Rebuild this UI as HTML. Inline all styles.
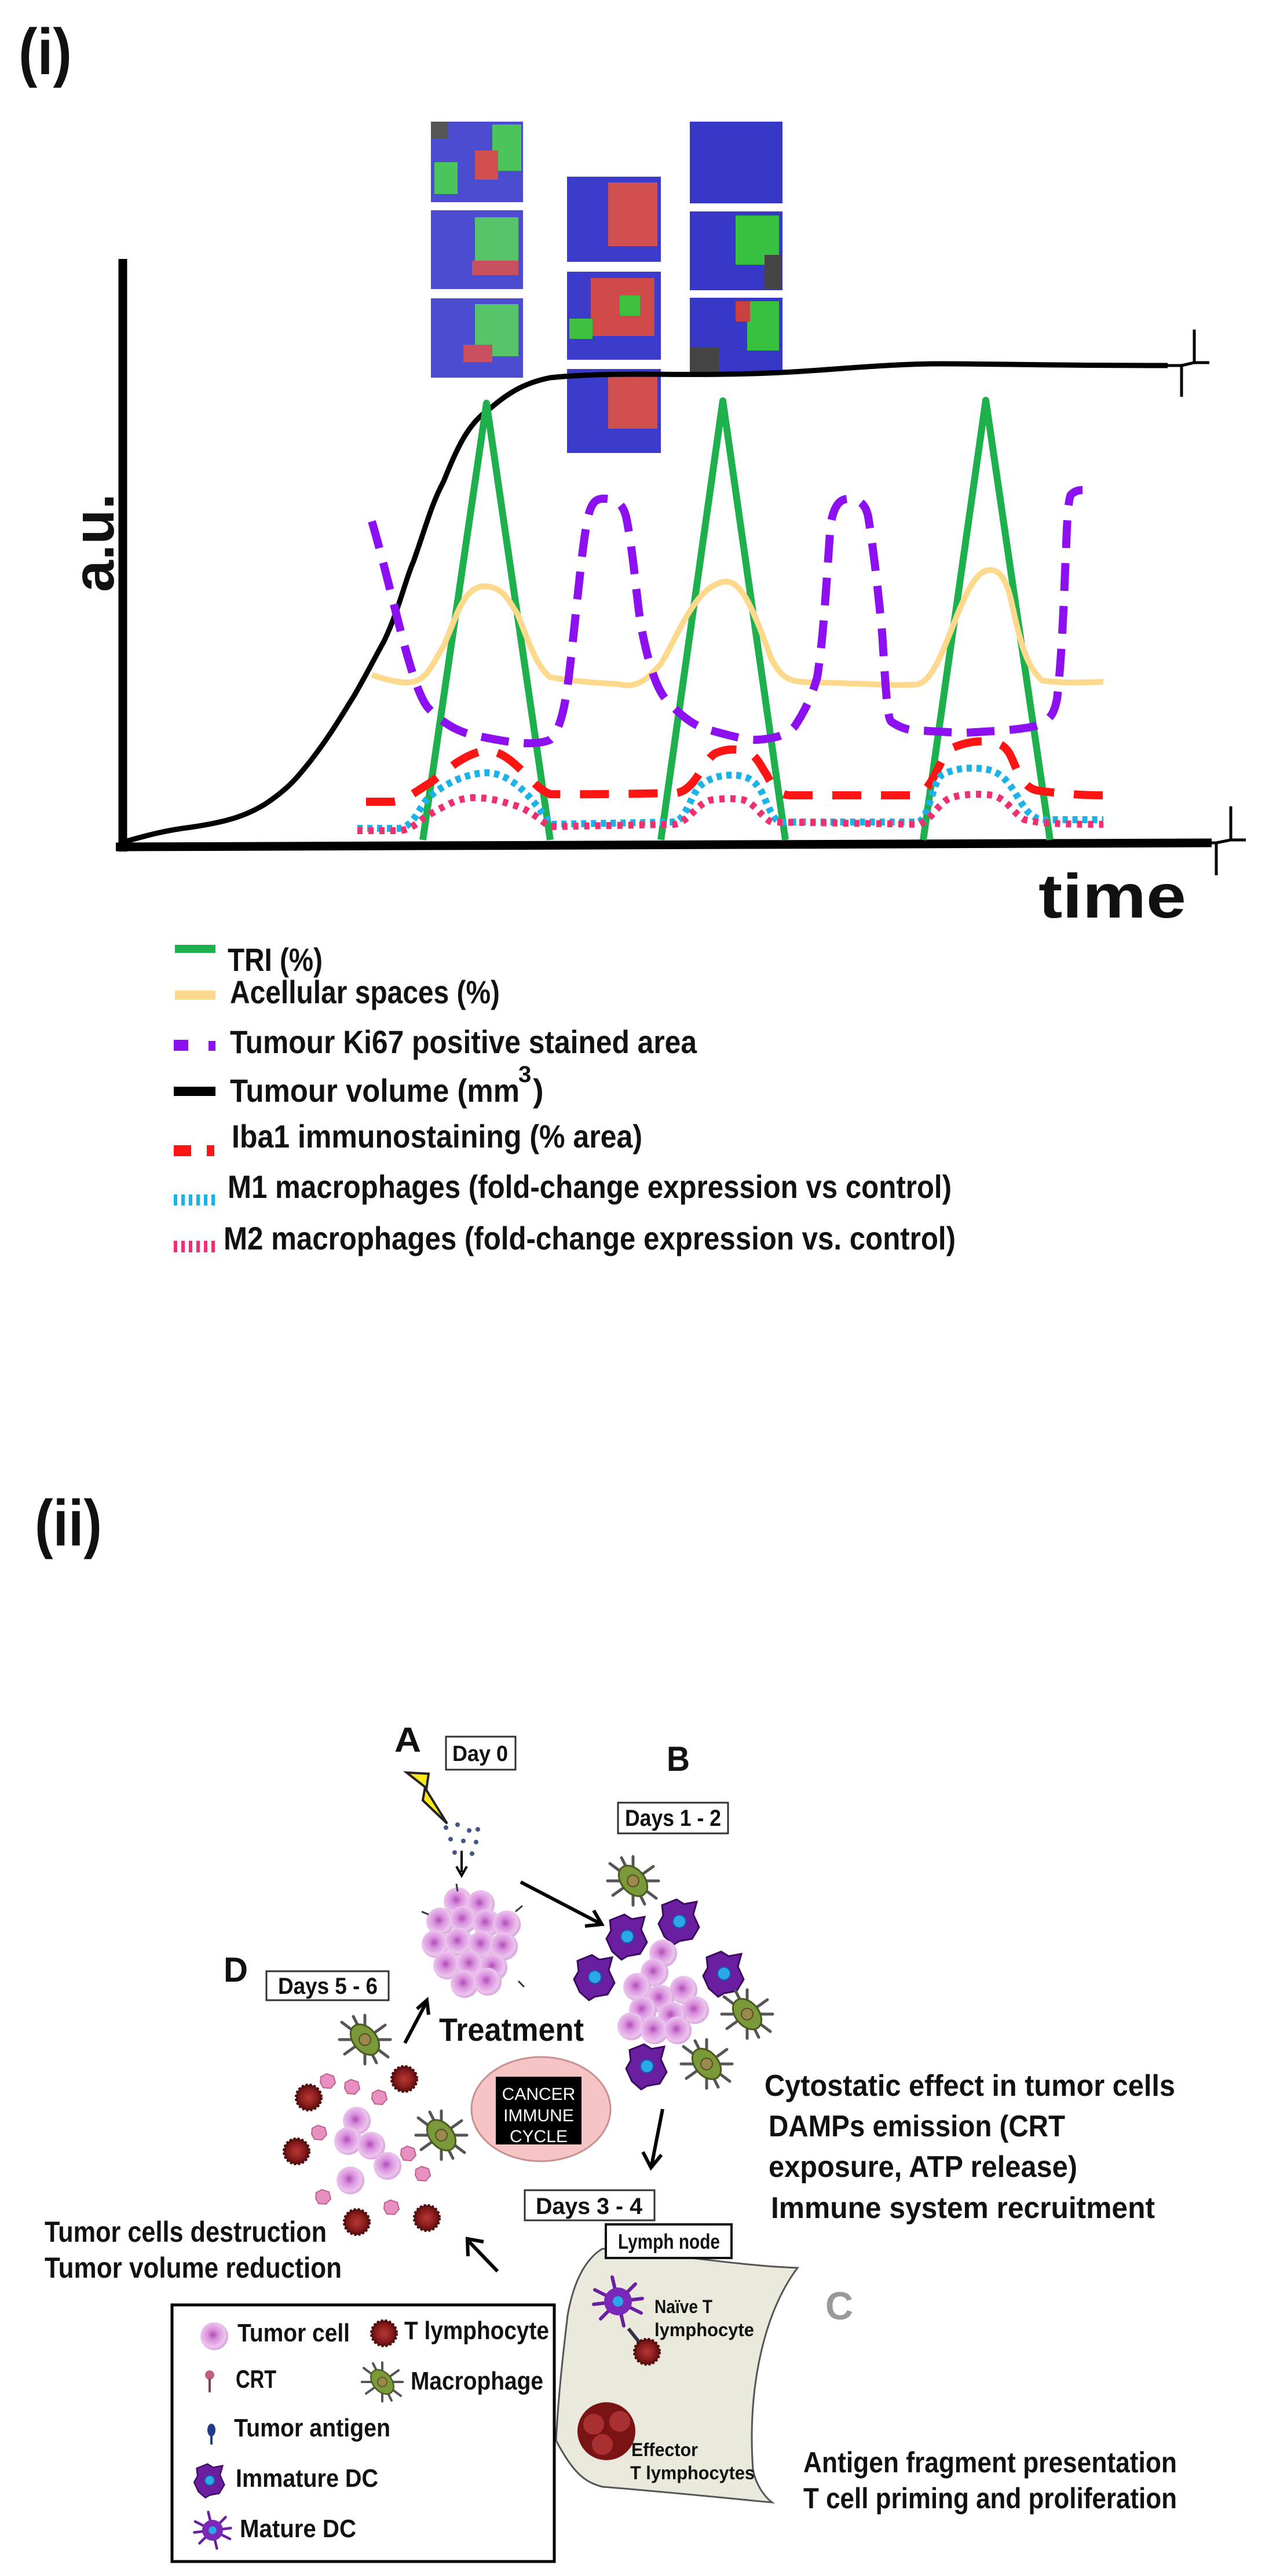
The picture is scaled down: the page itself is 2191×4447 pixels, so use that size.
<!DOCTYPE html>
<html><head><meta charset="utf-8"><style>
html,body{margin:0;padding:0;background:#fff}
svg{display:block}
text{font-family:"Liberation Sans",sans-serif;font-weight:bold;fill:#111}
</style></head><body>
<svg width="2191" height="4447" viewBox="0 0 2191 4447" xmlns="http://www.w3.org/2000/svg">
<defs>
<radialGradient id="tc" cx="45%" cy="45%" r="55%"><stop offset="0" stop-color="#b04cb8"/><stop offset="0.35" stop-color="#d890dc"/><stop offset="0.8" stop-color="#ecc4ee"/><stop offset="1" stop-color="#d7a4da"/></radialGradient>
<radialGradient id="tl" cx="50%" cy="50%" r="50%"><stop offset="0" stop-color="#b83838"/><stop offset="0.6" stop-color="#8e1e1e"/><stop offset="1" stop-color="#5a0e0e"/></radialGradient>
<g id="cell"><circle r="24" fill="url(#tc)"/></g>
<g id="tcell"><circle r="22" fill="url(#tl)" stroke="#4a0a0a" stroke-width="4" stroke-dasharray="4 3"/></g>
<g id="mac"><g stroke="#555" stroke-width="5" stroke-linecap="round"><line x1="-40" y1="-30" x2="40" y2="30"/><line x1="-35" y1="25" x2="35" y2="-25"/><line x1="0" y1="-42" x2="0" y2="42"/><line x1="-44" y1="0" x2="44" y2="0"/><line x1="-20" y1="-40" x2="20" y2="40"/></g><ellipse rx="30" ry="20" transform="rotate(50)" fill="#7a9a3a" stroke="#4c5a22" stroke-width="3"/><circle r="10" fill="#9a8a4a" stroke="#5a4a2a" stroke-width="2"/></g>
<g id="dc"><path d="M-30,-28 L-5,-38 L8,-30 L30,-34 L24,-12 L34,10 L22,30 L0,34 L-10,40 L-26,26 L-36,4 L-28,-10 Z" fill="#6a1ea0" stroke="#3c0a60" stroke-width="3"/><circle r="11" fill="#2aa8e8" stroke="#1060b0" stroke-width="2"/></g>
<g id="mdc"><g stroke="#6a1ea0" stroke-width="6" stroke-linecap="round"><line x1="-40" y1="-20" x2="40" y2="20"/><line x1="-30" y1="30" x2="30" y2="-30"/><line x1="-10" y1="-42" x2="10" y2="42"/><line x1="-42" y1="5" x2="42" y2="-5"/></g><circle r="24" fill="#7a28b8"/><circle r="9" fill="#2aa8e8"/></g>
<g id="deb"><path d="M-12,-8 L-2,-13 L10,-9 L13,3 L5,12 L-8,11 L-13,2 Z" fill="#e890c0" stroke="#c06090" stroke-width="2"/></g>
</defs>

<!-- (i) -->
<text x="32" y="128" font-size="112" textLength="92" lengthAdjust="spacingAndGlyphs">(i)</text>

<!-- tissue tiles -->
<g>
 <rect x="744" y="210" width="159" height="139" fill="#4c4cd0"/><rect x="850" y="215" width="50" height="80" fill="#4cc45c"/><rect x="820" y="260" width="40" height="50" fill="#d05050"/><rect x="750" y="280" width="40" height="55" fill="#4cc45c"/><rect x="744" y="210" width="30" height="30" fill="#555"/>
 <rect x="744" y="363" width="159" height="136" fill="#4c4cd0"/><rect x="820" y="375" width="75" height="85" fill="#58c46a"/><rect x="815" y="450" width="80" height="25" fill="#c85060"/>
 <rect x="744" y="515" width="159" height="137" fill="#4c4cd0"/><rect x="820" y="525" width="75" height="90" fill="#58c46a"/><rect x="800" y="595" width="50" height="30" fill="#c85060"/>
 <rect x="979" y="305" width="162" height="147" fill="#3c3ccc"/><rect x="1050" y="315" width="85" height="110" fill="#d05050"/>
 <rect x="979" y="469" width="162" height="152" fill="#3c3ccc"/><rect x="1020" y="480" width="110" height="100" fill="#d04a4a"/><rect x="1070" y="510" width="35" height="35" fill="#40c040"/><rect x="983" y="550" width="40" height="35" fill="#40c040"/>
 <rect x="979" y="637" width="162" height="145" fill="#3c3ccc"/><rect x="1050" y="650" width="85" height="90" fill="#d05050"/>
 <rect x="1191" y="210" width="160" height="141" fill="#3838c8"/>
 <rect x="1191" y="365" width="160" height="136" fill="#3838c8"/><rect x="1270" y="372" width="75" height="85" fill="#38c040"/><rect x="1320" y="440" width="30" height="60" fill="#444"/>
 <rect x="1191" y="514" width="160" height="129" fill="#3838c8"/><rect x="1290" y="520" width="55" height="85" fill="#38c040"/><rect x="1270" y="520" width="25" height="35" fill="#c84040"/><rect x="1191" y="600" width="50" height="43" fill="#444"/>
</g>

<!-- axes -->
<line x1="212" y1="447" x2="212" y2="1470" stroke="#000" stroke-width="15"/>
<line x1="200" y1="1462" x2="2092" y2="1455" stroke="#000" stroke-width="15"/>
<g stroke="#000" stroke-width="5" fill="none">
 <path d="M2016,631 L2040,631 L2040,685 M2040,631 L2062,626 L2062,569 M2062,626 L2088,626"/>
 <path d="M2076,1455 L2100,1455 L2100,1511 M2100,1455 L2125,1450 L2125,1392 M2125,1450 L2151,1450"/>
</g>
<text transform="translate(196,937) rotate(-90)" x="0" y="0" font-size="100" text-anchor="middle" textLength="170" lengthAdjust="spacingAndGlyphs">a.u.</text>
<text x="1793" y="1584" font-size="108" textLength="255" lengthAdjust="spacingAndGlyphs">time</text>

<!-- black curve -->
<path d="M212,1454 C260,1440 290,1433 330,1428 C400,1418 430,1405 458,1388 C500,1360 515,1340 535,1315 C570,1270 590,1235 612,1200 C635,1160 650,1130 663,1107 C690,1050 700,1000 714,969 C735,910 745,870 766,831 C790,770 810,730 843,708 C880,675 910,660 950,652 C1050,642 1150,648 1250,646 C1400,645 1500,628 1626,628 C1720,628 1800,631 2016,631" fill="none" stroke="#000" stroke-width="9"/>

<!-- green TRI -->
<polyline points="730,1450 840,696 950,1450" fill="none" stroke="#1db04c" stroke-width="12" stroke-linejoin="round"/>
<polyline points="1141,1450 1248,692 1356,1450" fill="none" stroke="#1db04c" stroke-width="12" stroke-linejoin="round"/>
<polyline points="1594,1450 1702,691 1813,1450" fill="none" stroke="#1db04c" stroke-width="12" stroke-linejoin="round"/>

<!-- yellow acellular -->
<path d="M642,1165 C680,1178 700,1180 714,1177 C740,1170 750,1140 766,1115 C790,1060 800,1015 835,1012 C870,1012 880,1040 894,1061 C910,1100 925,1150 950,1169 C1000,1178 1050,1180 1069,1181 C1100,1190 1120,1170 1141,1146 C1170,1100 1200,1010 1252,1004 C1280,1002 1300,1050 1332,1138 C1350,1170 1360,1177 1400,1178 C1500,1180 1560,1185 1586,1181 C1620,1170 1640,1080 1674,1015 C1690,988 1700,984 1710,984 C1730,984 1740,1010 1746,1038 C1760,1100 1770,1150 1800,1175 C1840,1180 1880,1178 1905,1177" fill="none" stroke="#fcd98c" stroke-width="10"/>

<!-- purple Ki67 -->
<path d="M642,900 C680,1030 710,1190 740,1223 C770,1255 800,1265 817,1269 C870,1280 920,1290 950,1277 C970,1260 978,1200 982,1169 C995,1060 1005,940 1014,900 C1020,865 1030,860 1045,861 C1065,862 1075,870 1081,892 C1095,960 1100,1050 1109,1092 C1125,1170 1140,1200 1157,1215 C1185,1245 1210,1258 1228,1261 C1260,1270 1290,1278 1308,1277 C1340,1275 1360,1268 1372,1254 C1395,1220 1405,1190 1411,1169 C1425,1080 1430,940 1435,900 C1442,868 1452,861 1467,861 C1485,862 1495,872 1499,892 C1510,960 1518,1040 1523,1092 C1530,1200 1532,1240 1539,1246 C1560,1260 1575,1261 1586,1261 C1620,1263 1650,1265 1666,1265 C1720,1262 1760,1260 1785,1254 C1815,1245 1820,1230 1825,1207 C1835,1120 1838,1000 1841,938 C1843,880 1846,858 1849,854 C1855,848 1862,846 1869,846" fill="none" stroke="#8c10f0" stroke-width="14" stroke-dasharray="48 26"/>

<!-- red Iba1 -->
<path d="M632,1384 L678,1384 C700,1382 720,1365 740,1353 C765,1335 780,1322 791,1315 C815,1300 830,1296 843,1296 C870,1298 890,1320 909,1338 C925,1355 935,1365 950,1371 C1020,1372 1100,1370 1165,1369 C1200,1368 1215,1310 1236,1300 C1255,1292 1270,1293 1284,1296 C1305,1300 1312,1320 1324,1338 C1335,1360 1345,1372 1364,1373 L1578,1373 C1610,1370 1620,1310 1642,1292 C1670,1280 1690,1278 1714,1281 C1740,1285 1745,1305 1753,1323 C1765,1350 1775,1362 1793,1365 C1830,1370 1870,1373 1905,1373" fill="none" stroke="#ff1414" stroke-width="14" stroke-dasharray="50 34"/>

<!-- cyan M1 -->
<path d="M617,1430 L689,1430 C715,1428 725,1390 740,1377 C770,1350 810,1334 843,1334 C880,1336 915,1370 950,1423 L1165,1419 C1185,1415 1195,1365 1212,1354 C1230,1340 1250,1338 1268,1338 C1295,1340 1305,1350 1316,1369 C1328,1395 1335,1417 1348,1419 L1586,1419 C1605,1410 1610,1350 1626,1338 C1650,1325 1675,1325 1698,1327 C1730,1332 1740,1350 1753,1369 C1770,1398 1780,1413 1801,1415 L1905,1415" fill="none" stroke="#1ab2e8" stroke-width="12" stroke-dasharray="9 8"/>

<!-- pink M2 -->
<path d="M617,1434 L689,1434 C715,1432 725,1414 740,1407 C770,1390 790,1378 817,1377 C850,1377 870,1385 894,1392 C920,1402 935,1418 950,1427 L1165,1423 C1190,1418 1205,1385 1228,1381 C1250,1378 1270,1378 1284,1381 C1305,1388 1315,1412 1332,1419 L1586,1423 C1610,1415 1620,1385 1642,1377 C1665,1370 1695,1370 1714,1373 C1740,1380 1750,1405 1769,1415 C1800,1423 1860,1423 1905,1423" fill="none" stroke="#f0306e" stroke-width="12" stroke-dasharray="9 10"/>

<!-- legend (i) -->
<rect x="302" y="1631" width="70" height="14" fill="#1db04c"/>
<text x="393" y="1676" font-size="56" textLength="164" lengthAdjust="spacingAndGlyphs">TRI (%)</text>
<rect x="302" y="1710" width="70" height="16" fill="#fcd98c"/>
<text x="397" y="1732" font-size="56" textLength="466" lengthAdjust="spacingAndGlyphs">Acellular spaces (%)</text>
<rect x="300" y="1795" width="25" height="19" fill="#8c10f0"/><rect x="360" y="1797" width="12" height="17" fill="#8c10f0"/>
<text x="397" y="1818" font-size="56" textLength="806" lengthAdjust="spacingAndGlyphs">Tumour Ki67 positive stained area</text>
<rect x="300" y="1876" width="72" height="16" fill="#000"/>
<text x="397" y="1902" font-size="56" textLength="500" lengthAdjust="spacingAndGlyphs">Tumour volume (mm</text>
<text x="895" y="1868" font-size="40">3</text>
<text x="920" y="1902" font-size="56">)</text>
<rect x="300" y="1977" width="30" height="19" fill="#ff1414"/><rect x="357" y="1977" width="13" height="19" fill="#ff1414"/>
<text x="400" y="1981" font-size="56" textLength="709" lengthAdjust="spacingAndGlyphs">Iba1 immunostaining (% area)</text>
<path d="M303,2062 v19 M316,2062 v19 M329,2062 v19 M342,2062 v19 M355,2062 v19 M368,2062 v19" stroke="#1ab2e8" stroke-width="6"/>
<text x="393" y="2068" font-size="56" textLength="1250" lengthAdjust="spacingAndGlyphs">M1 macrophages (fold-change expression vs control)</text>
<path d="M303,2142 v20 M316,2142 v20 M329,2142 v20 M342,2142 v20 M355,2142 v20 M368,2142 v20" stroke="#f0306e" stroke-width="6"/>
<text x="386" y="2157" font-size="56" textLength="1264" lengthAdjust="spacingAndGlyphs">M2 macrophages (fold-change expression vs. control)</text>

<!-- (ii) -->
<text x="60" y="2668" font-size="112" textLength="116" lengthAdjust="spacingAndGlyphs">(ii)</text>

<!-- A -->
<text x="681" y="3024" font-size="60" textLength="46" lengthAdjust="spacingAndGlyphs">A</text>
<rect x="770" y="2998" width="120" height="57" fill="#fff" stroke="#333" stroke-width="3"/>
<text x="781" y="3040" font-size="38" textLength="96" lengthAdjust="spacingAndGlyphs">Day 0</text>
<path d="M702,3060 L740,3062 L736,3090 L772,3148 L730,3108 L734,3085 Z" fill="#ffe81a" stroke="#222" stroke-width="4"/>
<g fill="#445588"><circle cx="770" cy="3155" r="4"/><circle cx="790" cy="3150" r="4"/><circle cx="810" cy="3160" r="4"/><circle cx="778" cy="3175" r="4"/><circle cx="800" cy="3178" r="4"/><circle cx="822" cy="3180" r="4"/><circle cx="785" cy="3198" r="4"/><circle cx="815" cy="3200" r="4"/><circle cx="825" cy="3158" r="4"/></g>
<line x1="797" y1="3195" x2="797" y2="3232" stroke="#000" stroke-width="4"/><path d="M788,3222 L797,3238 L806,3222" fill="none" stroke="#000" stroke-width="4"/>
<g>
<use href="#cell" x="790" y="3282"/><use href="#cell" x="830" y="3287"/><use href="#cell" x="760" y="3317"/><use href="#cell" x="800" y="3314"/><use href="#cell" x="840" y="3320"/><use href="#cell" x="875" y="3322"/><use href="#cell" x="752" y="3356"/><use href="#cell" x="792" y="3352"/><use href="#cell" x="832" y="3357"/><use href="#cell" x="870" y="3360"/><use href="#cell" x="772" y="3393"/><use href="#cell" x="812" y="3391"/><use href="#cell" x="852" y="3396"/><use href="#cell" x="802" y="3425"/><use href="#cell" x="842" y="3421"/>
</g>
<g stroke="#334" stroke-width="3"><line x1="740" y1="3305" x2="728" y2="3300"/><line x1="890" y1="3300" x2="902" y2="3290"/><line x1="895" y1="3420" x2="905" y2="3430"/><line x1="790" y1="3265" x2="788" y2="3252"/></g>
<path d="M899,3249 L1039,3322" stroke="#000" stroke-width="6"/><path d="M1010,3325 L1039,3322 L1025,3298" fill="none" stroke="#000" stroke-width="6"/>

<!-- B -->
<text x="1151" y="3057" font-size="60" textLength="40" lengthAdjust="spacingAndGlyphs">B</text>
<rect x="1067" y="3112" width="190" height="53" fill="#fff" stroke="#333" stroke-width="3"/>
<text x="1079" y="3152" font-size="40" textLength="166" lengthAdjust="spacingAndGlyphs">Days 1 - 2</text>
<use href="#mac" x="1093" y="3247"/>
<use href="#dc" x="1083" y="3343"/><use href="#dc" x="1173" y="3317"/><use href="#dc" x="1027" y="3413"/><use href="#dc" x="1250" y="3407"/><use href="#dc" x="1117" y="3567"/>
<g>
<use href="#cell" x="1145" y="3372"/><use href="#cell" x="1130" y="3405"/><use href="#cell" x="1100" y="3430"/><use href="#cell" x="1180" y="3435"/><use href="#cell" x="1140" y="3450"/><use href="#cell" x="1200" y="3470"/><use href="#cell" x="1110" y="3470"/><use href="#cell" x="1160" y="3480"/><use href="#cell" x="1090" y="3498"/><use href="#cell" x="1130" y="3505"/><use href="#cell" x="1170" y="3505"/>
</g>
<use href="#mac" x="1290" y="3477"/><use href="#mac" x="1220" y="3563"/>

<!-- D -->
<text x="386" y="3421" font-size="60" textLength="42" lengthAdjust="spacingAndGlyphs">D</text>
<rect x="460" y="3403" width="211" height="50" fill="#fff" stroke="#333" stroke-width="3"/>
<text x="480" y="3442" font-size="40" textLength="172" lengthAdjust="spacingAndGlyphs">Days 5 - 6</text>
<path d="M699,3527 L737,3455" stroke="#000" stroke-width="6"/><path d="M720,3468 L737,3453 L740,3478" fill="none" stroke="#000" stroke-width="6"/>
<text x="758" y="3523" font-size="56" textLength="250" lengthAdjust="spacingAndGlyphs">Treatment</text>
<use href="#mac" x="630" y="3521"/><use href="#mac" x="762" y="3686"/>
<use href="#tcell" x="533" y="3621"/><use href="#tcell" x="698" y="3589"/><use href="#tcell" x="512" y="3714"/><use href="#tcell" x="616" y="3836"/><use href="#tcell" x="737" y="3829"/>
<use href="#deb" x="566" y="3593"/><use href="#deb" x="608" y="3603"/><use href="#deb" x="655" y="3621"/><use href="#deb" x="551" y="3682"/><use href="#deb" x="730" y="3753"/><use href="#deb" x="558" y="3793"/><use href="#deb" x="676" y="3811"/><use href="#deb" x="705" y="3718"/>
<use href="#cell" x="616" y="3661"/><use href="#cell" x="601" y="3696"/><use href="#cell" x="641" y="3704"/><use href="#cell" x="669" y="3739"/><use href="#cell" x="605" y="3764"/>

<!-- center -->
<ellipse cx="934" cy="3641" rx="120" ry="90" fill="#f6c4c4" stroke="#c89090" stroke-width="3"/>
<rect x="856" y="3585" width="148" height="117" fill="#000"/>
<text x="930" y="3625" font-size="30" text-anchor="middle" style="fill:#fff;font-weight:normal">CANCER</text>
<text x="930" y="3662" font-size="30" text-anchor="middle" style="fill:#fff;font-weight:normal">IMMUNE</text>
<text x="930" y="3698" font-size="30" text-anchor="middle" style="fill:#fff;font-weight:normal">CYCLE</text>

<text x="1320" y="3618" font-size="52" textLength="709" lengthAdjust="spacingAndGlyphs">Cytostatic effect in tumor cells</text>
<text x="1327" y="3688" font-size="52" textLength="512" lengthAdjust="spacingAndGlyphs">DAMPs emission (CRT</text>
<text x="1327" y="3758" font-size="52" textLength="533" lengthAdjust="spacingAndGlyphs">exposure, ATP release)</text>
<text x="1331" y="3829" font-size="52" textLength="663" lengthAdjust="spacingAndGlyphs">Immune system recruitment</text>

<path d="M1144,3641 L1125,3738" stroke="#000" stroke-width="6"/><path d="M1110,3715 L1124,3742 L1142,3720" fill="none" stroke="#000" stroke-width="6"/>
<rect x="906" y="3781" width="224" height="52" fill="#fff" stroke="#333" stroke-width="3"/>
<text x="925" y="3822" font-size="40" textLength="184" lengthAdjust="spacingAndGlyphs">Days 3 - 4</text>

<text x="77" y="3870" font-size="50" textLength="487" lengthAdjust="spacingAndGlyphs">Tumor cells destruction</text>
<text x="77" y="3932" font-size="50" textLength="513" lengthAdjust="spacingAndGlyphs">Tumor volume reduction</text>
<path d="M859,3921 L810,3870" stroke="#000" stroke-width="6"/><path d="M808,3895 L807,3865 L835,3870" fill="none" stroke="#000" stroke-width="6"/>

<!-- lymph node -->
<path d="M1040,3882 C1150,3890 1280,3912 1377,3915 C1320,3990 1290,4120 1300,4263 C1305,4290 1320,4310 1333,4320 C1250,4312 1130,4300 1040,4293 C1010,4285 990,4270 960,4213 C965,4120 975,4040 980,3997 C990,3940 1010,3900 1040,3882 Z" fill="#ebe8dc" stroke="#555" stroke-width="3"/>
<rect x="1046" y="3840" width="217" height="58" fill="#fff" stroke="#111" stroke-width="4"/>
<text x="1067" y="3882" font-size="36" textLength="176" lengthAdjust="spacingAndGlyphs">Lymph node</text>
<use href="#mdc" x="1067" y="3973"/>
<line x1="1085" y1="4020" x2="1105" y2="4045" stroke="#334" stroke-width="6"/>
<use href="#tcell" x="1117" y="4060"/>
<text x="1130" y="3993" font-size="32" textLength="100" lengthAdjust="spacingAndGlyphs">Naïve T</text>
<text x="1130" y="4033" font-size="32" textLength="172" lengthAdjust="spacingAndGlyphs">lymphocyte</text>
<g><circle cx="1047" cy="4197" r="50" fill="#7a1414"/><circle cx="1025" cy="4185" r="18" fill="#a83030"/><circle cx="1070" cy="4180" r="18" fill="#a83030"/><circle cx="1040" cy="4220" r="18" fill="#a83030"/></g>
<text x="1090" y="4240" font-size="32" textLength="115" lengthAdjust="spacingAndGlyphs">Effector</text>
<text x="1088" y="4280" font-size="32" textLength="215" lengthAdjust="spacingAndGlyphs">T lymphocytes</text>
<text x="1425" y="4004" font-size="68" style="fill:#999" textLength="48" lengthAdjust="spacingAndGlyphs">C</text>
<text x="1387" y="4268" font-size="50" textLength="645" lengthAdjust="spacingAndGlyphs">Antigen fragment presentation</text>
<text x="1387" y="4330" font-size="50" textLength="645" lengthAdjust="spacingAndGlyphs">T cell priming and proliferation</text>

<!-- legend box (ii) -->
<rect x="297" y="3979" width="660" height="443" fill="#fff" stroke="#000" stroke-width="5"/>
<use href="#cell" x="370" y="4033"/>
<text x="410" y="4042" font-size="44" textLength="194" lengthAdjust="spacingAndGlyphs">Tumor cell</text>
<use href="#tcell" x="663" y="4028"/>
<text x="698" y="4038" font-size="44" textLength="250" lengthAdjust="spacingAndGlyphs">T lymphocyte</text>
<circle cx="362" cy="4100" r="8" fill="#c06080"/><line x1="362" y1="4106" x2="362" y2="4130" stroke="#804060" stroke-width="4"/>
<text x="407" y="4122" font-size="44" textLength="70" lengthAdjust="spacingAndGlyphs">CRT</text>
<g transform="translate(660,4112) scale(0.8)"><use href="#mac"/></g>
<text x="709" y="4125" font-size="44" textLength="229" lengthAdjust="spacingAndGlyphs">Macrophage</text>
<ellipse cx="365" cy="4195" rx="7" ry="11" fill="#223a8a"/><line x1="365" y1="4205" x2="365" y2="4220" stroke="#223a8a" stroke-width="4"/>
<text x="404" y="4206" font-size="44" textLength="270" lengthAdjust="spacingAndGlyphs">Tumor antigen</text>
<g transform="translate(362,4282) scale(0.75)"><use href="#dc"/></g>
<text x="407" y="4293" font-size="44" textLength="246" lengthAdjust="spacingAndGlyphs">Immature DC</text>
<g transform="translate(367,4368) scale(0.75)"><use href="#mdc"/></g>
<text x="414" y="4380" font-size="44" textLength="201" lengthAdjust="spacingAndGlyphs">Mature DC</text>
</svg>
</body></html>
